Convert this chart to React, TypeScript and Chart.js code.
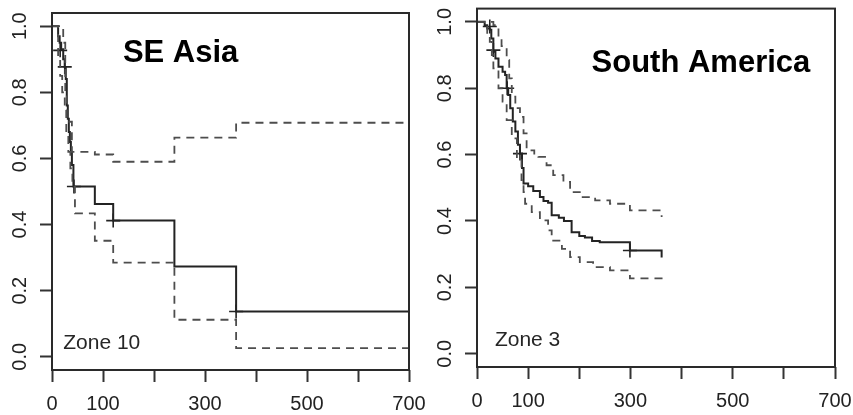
import React, { useEffect, useRef } from "react";
import { Chart, registerables } from "chart.js";

Chart.register(...registerables);

// ---------- axes ----------
const X_TICKS = [0, 100, 200, 300, 400, 500, 600, 700];
const X_TICK_LABELS = ["0", "100", "", "300", "", "500", "", "700"];
const Y_TICKS = [0, 0.2, 0.4, 0.6, 0.8, 1.0];
const Y_TICK_LABELS = ["0.0", "0.2", "0.4", "0.6", "0.8", "1.0"];

// ---------- SE Asia (Zone 10) ----------
const SEA_T = [0, 12, 15, 18, 22, 25, 27, 29, 31, 33, 35, 37, 39, 42, 84, 120, 240, 361, 700];
const SEA_S = [1.0, 0.97, 0.95, 0.93, 0.9, 0.877, 0.84, 0.76, 0.72, 0.68, 0.65, 0.62, 0.58, 0.515, 0.462, 0.412, 0.273, 0.137, 0.137];
const SEA_UP_T = [0, 16, 22, 26, 29, 39, 84, 120, 240, 361, 700];
const SEA_UP_S = [1.0, 1.0, 0.95, 0.8, 0.711, 0.62, 0.612, 0.59, 0.663, 0.708, 0.708];
const SEA_LO_T = [0, 12, 16, 20, 25, 28, 32, 36, 40, 45, 84, 120, 240, 361, 700];
const SEA_LO_S = [1.0, 0.9, 0.85, 0.8, 0.76, 0.68, 0.62, 0.57, 0.515, 0.434, 0.351, 0.285, 0.112, 0.026, 0.026];
const SEA_CENS_T = [16, 25, 43, 120, 361];
const SEA_CENS_S = [0.927, 0.877, 0.515, 0.412, 0.137];

// ---------- South America (Zone 3) ----------
const SAM_T = [0, 15, 20, 25, 28, 32, 36, 42, 50, 55, 58, 61, 65, 70, 75, 80, 84, 88, 91, 100, 110, 123, 130, 139, 146, 160, 170, 185, 200, 211, 225, 240, 299, 361];
const SAM_S = [1.0, 0.99, 0.98, 0.976, 0.95, 0.91, 0.89, 0.865, 0.85, 0.84, 0.8, 0.78, 0.74, 0.7, 0.67, 0.63, 0.603, 0.56, 0.513, 0.505, 0.49, 0.472, 0.46, 0.455, 0.417, 0.41, 0.4, 0.366, 0.355, 0.35, 0.34, 0.336, 0.311, 0.29];
const SAM_UP_T = [0, 25, 32, 42, 48, 58, 63, 68, 75, 84, 91, 97, 112, 120, 136, 149, 169, 182, 201, 231, 260, 299, 361];
const SAM_UP_S = [1.0, 1.0, 0.99, 0.95, 0.927, 0.885, 0.83, 0.775, 0.74, 0.714, 0.664, 0.613, 0.6, 0.593, 0.568, 0.538, 0.518, 0.487, 0.472, 0.462, 0.452, 0.432, 0.412];
const SAM_LO_T = [0, 20, 25, 29, 32, 42, 50, 58, 68, 78, 87, 91, 94, 107, 123, 139, 146, 166, 182, 201, 227, 260, 299, 361];
const SAM_LO_S = [1.0, 0.96, 0.94, 0.9, 0.86, 0.8, 0.76, 0.704, 0.649, 0.583, 0.523, 0.487, 0.452, 0.427, 0.402, 0.372, 0.341, 0.316, 0.291, 0.276, 0.261, 0.251, 0.227, 0.21];
const SAM_CENS_T = [25, 32, 59, 84, 299];
const SAM_CENS_S = [0.986, 0.915, 0.8, 0.603, 0.311];

const FONT = '"Liberation Sans", Arial, Helvetica, sans-serif';

type Note = { text: string; x: number; y: number; size: number; bold: boolean };

const zip = (xs: number[], ys: number[]) => xs.map((x, i) => ({ x, y: ys[i] }));

const framePlugin = {
  id: "frame",
  afterDatasetsDraw(chart: any) {
    const { ctx, chartArea } = chart;
    const { left, top, right, bottom } = chartArea;
    ctx.save();
    ctx.strokeStyle = "#2a2a2a";
    ctx.lineWidth = 2;
    ctx.strokeRect(left, top, right - left, bottom - top);
    ctx.restore();
  },
};

function notesPlugin(notes: Note[]) {
  return {
    id: "notes",
    afterDatasetsDraw(chart: any) {
      const { ctx } = chart;
      const xs = chart.scales.x;
      const ys = chart.scales.y;
      ctx.save();
      for (const n of notes) {
        ctx.font = `${n.bold ? "bold " : ""}${n.size}px ${FONT}`;
        ctx.fillStyle = n.bold ? "#000" : "#262626";
        ctx.textAlign = "left";
        ctx.textBaseline = "alphabetic";
        ctx.fillText(n.text, xs.getPixelForValue(n.x), ys.getPixelForValue(n.y));
      }
      ctx.restore();
    },
  };
}

type Panel = {
  t: number[]; s: number[];
  upT: number[]; upS: number[];
  loT: number[]; loS: number[];
  cT: number[]; cS: number[];
  notes: Note[];
  pad: { top: number; right: number };
  xHeight: number;
};

function makeConfig(p: Panel): any {
  const dashed = (data: any) => ({
    data,
    stepped: true,
    borderColor: "#4d4d4d",
    borderWidth: 1.8,
    borderDash: [8, 6],
    pointRadius: 0,
    fill: false,
  });
  return {
    type: "line",
    data: {
      datasets: [
        dashed(zip(p.upT, p.upS)),
        dashed(zip(p.loT, p.loS)),
        {
          data: zip(p.t, p.s),
          stepped: true,
          borderColor: "#232323",
          borderWidth: 2,
          pointRadius: 0,
          fill: false,
        },
        {
          data: zip(p.cT, p.cS),
          showLine: false,
          pointStyle: "cross",
          pointRadius: 7,
          pointBorderWidth: 1.6,
          pointBorderColor: "#232323",
          borderColor: "#232323",
        },
      ],
    },
    options: {
      responsive: false,
      animation: false,
      events: [],
      layout: { padding: { left: 0, top: p.pad.top, right: p.pad.right, bottom: 0 } },
      plugins: { legend: { display: false }, tooltip: { enabled: false } },
      scales: {
        x: {
          type: "linear",
          min: 0,
          max: 700,
          afterBuildTicks: (s: any) => {
            s.ticks = X_TICKS.map((v) => ({ value: v }));
          },
          afterFit: (s: any) => {
            s.height = p.xHeight;
            s.paddingLeft = 0;
            s.paddingRight = 0;
          },
          ticks: {
            autoSkip: false,
            maxRotation: 0,
            minRotation: 0,
            padding: 10,
            color: "#222",
            font: { family: FONT, size: 20 },
            callback: (v: number) => X_TICK_LABELS[X_TICKS.indexOf(v)] ?? "",
          },
          grid: {
            drawOnChartArea: false,
            drawTicks: true,
            tickLength: 12,
            tickColor: "#333",
            tickWidth: 2,
          },
          border: { display: false },
        },
        y: {
          type: "linear",
          min: -0.04,
          max: 1.04,
          afterBuildTicks: (s: any) => {
            s.ticks = Y_TICKS.map((v) => ({ value: v }));
          },
          afterFit: (s: any) => {
            s.width = 52;
            s.paddingTop = 0;
            s.paddingBottom = 0;
          },
          ticks: {
            minRotation: 90,
            maxRotation: 90,
            crossAlign: "center",
            padding: 6,
            color: "#222",
            font: { family: FONT, size: 20 },
            callback: (v: number) => Y_TICK_LABELS[Y_TICKS.indexOf(v)] ?? "",
          },
          grid: {
            drawOnChartArea: false,
            drawTicks: true,
            tickLength: 12,
            tickColor: "#333",
            tickWidth: 2,
          },
          border: { display: false },
        },
      },
    },
    plugins: [framePlugin, notesPlugin(p.notes)],
  };
}

const LEFT_PANEL: Panel = {
  t: SEA_T, s: SEA_S,
  upT: SEA_UP_T, upS: SEA_UP_S,
  loT: SEA_LO_T, loS: SEA_LO_S,
  cT: SEA_CENS_T, cS: SEA_CENS_S,
  notes: [
    { text: "SE Asia", x: 139, y: 0.892, size: 31, bold: true },
    { text: "Zone 10", x: 22, y: 0.023, size: 21, bold: false },
  ],
  pad: { top: 13, right: 36 },
  xHeight: 45,
};

const RIGHT_PANEL: Panel = {
  t: SAM_T, s: SAM_S,
  upT: SAM_UP_T, upS: SAM_UP_S,
  loT: SAM_LO_T, loS: SAM_LO_S,
  cT: SAM_CENS_T, cS: SAM_CENS_S,
  notes: [
    { text: "South America", x: 224, y: 0.85, size: 31, bold: true },
    { text: "Zone 3", x: 35, y: 0.022, size: 21, bold: false },
  ],
  pad: { top: 8, right: 18 },
  xHeight: 48,
};

function PanelChart({ panel, left, width }: { panel: Panel; left: number; width: number }) {
  const ref = useRef<HTMLCanvasElement | null>(null);
  useEffect(() => {
    if (!ref.current) return;
    const chart = new Chart(ref.current, makeConfig(panel));
    return () => chart.destroy();
  }, [panel]);
  return (
    <canvas
      ref={ref}
      width={width}
      height={415}
      style={{ position: "absolute", left, top: 0, width, height: 415 }}
    />
  );
}

export default function App() {
  return (
    <div
      style={{
        position: "fixed",
        left: 0,
        top: 0,
        width: 853,
        height: 415,
        background: "#fff",
        overflow: "hidden",
      }}
    >
      <PanelChart panel={LEFT_PANEL} left={0} width={445} />
      <PanelChart panel={RIGHT_PANEL} left={425} width={428} />
    </div>
  );
}
